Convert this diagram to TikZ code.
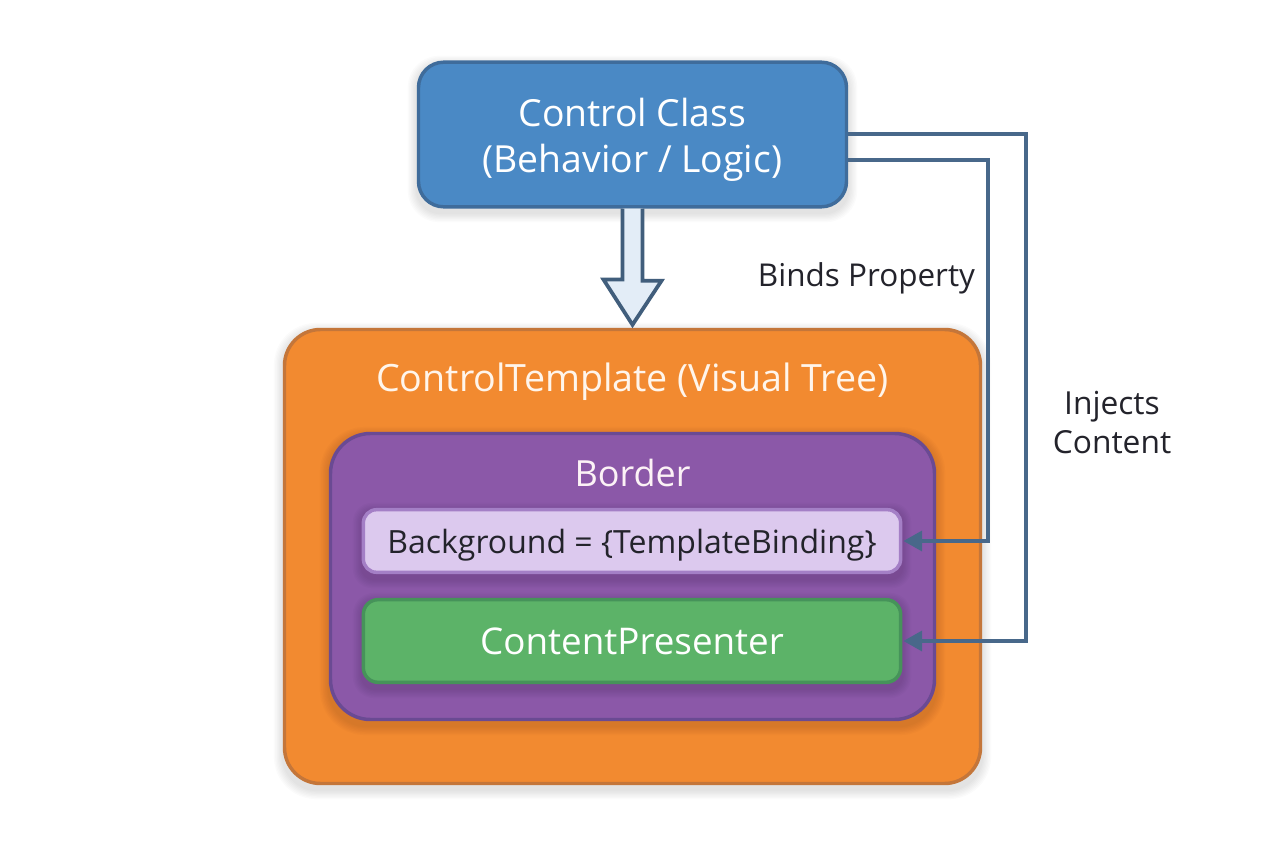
\documentclass[tikz,border=0pt]{standalone}
\usepackage{fontspec}
\setmainfont{Open Sans}
\usetikzlibrary{arrows.meta,calc,positioning}
\definecolor{ctrlfill}{HTML}{4A89C5}
\definecolor{ctrlline}{HTML}{3F6C9B}
\definecolor{tmplfill}{HTML}{F28A30}
\definecolor{tmplline}{HTML}{C4763A}
\definecolor{bordfill}{HTML}{8B58A8}
\definecolor{bordline}{HTML}{6A4A93}
\definecolor{bgfill}{HTML}{DCC9EE}
\definecolor{bgline}{HTML}{A47FC6}
\definecolor{contfill}{HTML}{5CB368}
\definecolor{contline}{HTML}{46935A}
\definecolor{wire}{HTML}{48688A}
\definecolor{hollow}{HTML}{E3EDF7}
\definecolor{inktext}{HTML}{23232B}
\newcommand{\softshadow}[5]{%
  \foreach \g in {1,...,7}{%
    \fill[black,fill opacity=0.014,rounded corners=#5*0.75pt+\g*0.75pt]
      ({#1-\g*1.3},{#2+4-\g*1.3}) rectangle ({#3+\g*1.3},{#4+5+\g*1.3});
  }%
}
\tikzset{
  box/.style={draw,rectangle,inner sep=0pt,align=center,line width=2.6pt},
  wirearrow/.style={draw=wire,line width=2.6pt,-{Triangle[length=14pt,width=15pt]}},
  plainlabel/.style={text=inktext,inner sep=0pt,align=center},
  hollowarrow/.style={draw=wire!90!black,fill=hollow,line width=2.8pt,line join=miter}
}
\begin{document}
\begin{tikzpicture}[x=0.75pt,y=-0.75pt]
\useasboundingbox[fill=white] (0,0) rectangle (1264,848);
\softshadow{417}{61}{848}{208}{24}
\softshadow{283}{328}{982}{785}{35}
\node[box,draw=ctrlline,fill=ctrlfill,rounded corners=19pt,minimum width=321pt,minimum height=108.5pt] (ctrl) at (632.5,134.5) {};
\node[text=white,inner sep=0pt,align=center,font=\fontsize{28pt}{34.5pt}\selectfont] (ctrltext) at (632.5,139.5) {Control Class\\(Behavior / Logic)};
\node[box,draw=tmplline,fill=tmplfill,rounded corners=27pt,minimum width=522pt,minimum height=340.5pt] (tmpl) at (632.5,556.5) {};
\node[text=white!92!orange,inner sep=0pt,font=\fontsize{28.2pt}{32pt}\selectfont] (tmpltext) at (632.5,382) {ControlTemplate (Visual Tree)};
\softshadow{329}{432}{936}{721}{38}
\node[box,draw=bordline,fill=bordfill,rounded corners=30pt,minimum width=453pt,minimum height=214.5pt] (bord) at (632.5,576.5) {};
\node[text=white!95!purple,inner sep=0pt,font=\fontsize{27pt}{32pt}\selectfont] (bordtext) at (632.5,473) {Border};
\softshadow{362}{508}{902}{574}{12}
\node[box,draw=bgline,fill=bgfill,rounded corners=10pt,minimum width=403pt,minimum height=47pt] (bg) at (632,541) {};
\node[text=inktext,inner sep=0pt,font=\fontsize{24pt}{28pt}\selectfont] (bgtext) at (632,545) {Background = \{TemplateBinding\}};
\softshadow{362}{598}{902}{684}{14}
\node[box,draw=contline,fill=contfill,rounded corners=11pt,minimum width=403pt,minimum height=62pt,
  text=white,font=\fontsize{27.6pt}{32pt}\selectfont] (cont) at (632,641) {ContentPresenter};
% hollow inheritance arrow
\draw[hollowarrow] ($(ctrl.south)+(-10,0)$) -- ++(0,71) -- ++(-19,0) -- ($(tmpl.north)+(0,-3)$)
  -- ++(29,-44) -- ++(-19,0) -- ($(ctrl.south)+(10,0)$);
% connectors
\coordinate (bindstart) at ($(ctrl.east)+(0,25.5)$);
\coordinate (bindturn) at (988,160);
\coordinate (bindend) at (988,541);
\coordinate (injstart) at ($(ctrl.east)+(0,-0.5)$);
\coordinate (injturn) at (1026,134);
\coordinate (injend) at (1026,641);
\draw[wirearrow] (bindstart) -- (bindturn) -- (bindend) -- ($(bg.east)+(1,0)$);
\draw[wirearrow] (injstart) -- (injturn) -- (injend) -- ($(cont.east)+(1,0)$);
\node[plainlabel,font=\fontsize{23.6pt}{29.25pt}\selectfont] (bindlabel) at (866.5,278) {Binds Property};
\node[plainlabel,font=\fontsize{23.8pt}{29.25pt}\selectfont] (injlabel) at (1112,423) {Injects\\Content};
\end{tikzpicture}
\end{document}
